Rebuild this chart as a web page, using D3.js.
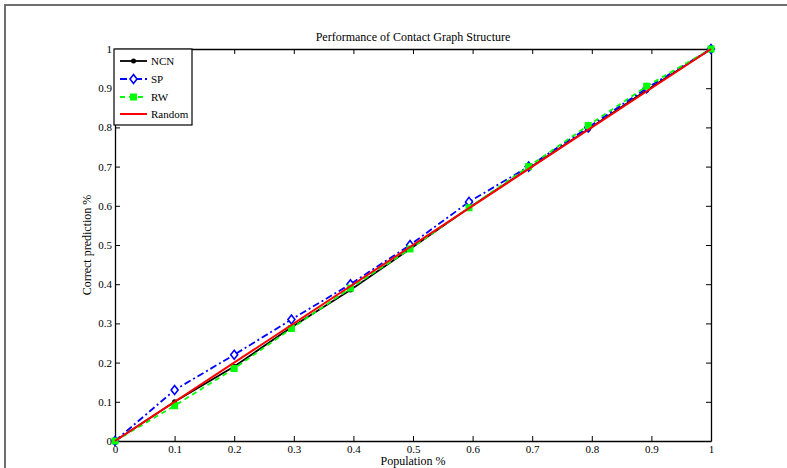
<!DOCTYPE html>
<html><head><meta charset="utf-8">
<script src="https://cdn.jsdelivr.net/npm/d3@7"></script>
<style>body{margin:0;background:#fff;}svg{display:block;}text{font-family:"Liberation Serif","Times New Roman",serif;}</style>
</head><body>
<svg id="c" width="787" height="468"></svg>
<script>
const xVals = [0, 0.1, 0.2, 0.296, 0.395, 0.495, 0.594, 0.694, 0.794, 0.892, 1];
const ncn = [0, 0.10, 0.19, 0.29, 0.385, 0.49, 0.595, 0.695, 0.795, 0.895, 1.0];
const sp = [0, 0.13, 0.22, 0.31, 0.40, 0.50, 0.61, 0.70, 0.80, 0.90, 1.0];
const rw = [0, 0.09, 0.185, 0.287, 0.39, 0.49, 0.595, 0.70, 0.805, 0.905, 1.0];
const randomX = [0, 1];
const randomY = [0, 1];
const ticks = [0, 0.1, 0.2, 0.3, 0.4, 0.5, 0.6, 0.7, 0.8, 0.9, 1];
const tickLabels = ["0", "0.1", "0.2", "0.3", "0.4", "0.5", "0.6", "0.7", "0.8", "0.9", "1"];
const seriesNames = ["NCN", "SP", "RW", "Random"];

const svg = d3.select("#c");
// outer frame
svg.append("path").attr("d", "M5,468 L5,5 L787,5").attr("fill", "none").attr("stroke", "#6e6e6e").attr("stroke-width", 2);

const L = 115, R = 711, T = 49, B = 441;
const x = d3.scaleLinear().domain([0, 1]).range([L, R]);
const y = d3.scaleLinear().domain([0, 1]).range([B, T]);

const g = svg.append("g");
const fmt = (d, i) => tickLabels[i];
const ax = g.append("g").attr("transform", `translate(0,${B})`).call(d3.axisBottom(x).tickValues(ticks).tickFormat(fmt).tickSizeInner(-5).tickSizeOuter(0).tickPadding(6));
const ay = g.append("g").attr("transform", `translate(${L},0)`).call(d3.axisLeft(y).tickValues(ticks).tickFormat(fmt).tickSizeInner(-5).tickSizeOuter(0).tickPadding(3));
const at = g.append("g").attr("transform", `translate(0,${T})`).call(d3.axisTop(x).tickValues(ticks).tickFormat("").tickSizeInner(-5).tickSizeOuter(0));
const ar = g.append("g").attr("transform", `translate(${R},0)`).call(d3.axisRight(y).tickValues(ticks).tickFormat("").tickSizeInner(-5).tickSizeOuter(0));
[ax, ay, at, ar].forEach(a => {
  a.selectAll("path.domain").attr("stroke", "#000").attr("stroke-width", 1.3);
  a.selectAll("line").attr("stroke", "#000").attr("stroke-width", 1);
  a.selectAll("text").attr("font-size", 11).attr("fill", "#000").style("font-family", "Liberation Serif, serif");
});
ax.selectAll("text").attr("dy", "0.5em");

svg.append("text").attr("x", (L + R) / 2).attr("y", 41).attr("text-anchor", "middle").attr("font-size", 12).text("Performance of Contact Graph Structure");
svg.append("text").attr("x", (L + R) / 2).attr("y", 465).attr("text-anchor", "middle").attr("font-size", 12).text("Population %");
svg.append("text").attr("transform", `translate(91,${(T + B) / 2}) rotate(-90)`).attr("text-anchor", "middle").attr("font-size", 12).text("Correct prediction %");

const line = d3.line().x(d => x(d[0])).y(d => y(d[1]));
const zip = (a, b) => a.map((v, i) => [v, b[i]]);

g.append("path").datum(zip(xVals, ncn)).attr("d", line).attr("fill", "none").attr("stroke", "#000").attr("stroke-width", 1.8);
g.selectAll(".ncn").data(zip(xVals, ncn)).join("circle").attr("cx", d => x(d[0])).attr("cy", d => y(d[1])).attr("r", 2.5).attr("fill", "#000");
g.append("path").datum(zip(xVals, sp)).attr("d", line).attr("fill", "none").attr("stroke", "#0000ff").attr("stroke-width", 1.8).attr("stroke-dasharray", "7,3,2,3");
g.selectAll(".sp").data(zip(xVals, sp)).join("path").attr("d", "M0,-4.5L3.5,0L0,4.5L-3.5,0Z").attr("transform", d => `translate(${x(d[0])},${y(d[1])})`).attr("fill", "#fff").attr("stroke", "#0000ff").attr("stroke-width", 1.6);
g.append("path").datum(zip(xVals, rw)).attr("d", line).attr("fill", "none").attr("stroke", "#00ff00").attr("stroke-width", 1.8).attr("stroke-dasharray", "5,4");
g.selectAll(".rw").data(zip(xVals, rw)).join("rect").attr("x", d => x(d[0]) - 3.5).attr("y", d => y(d[1]) - 3.5).attr("width", 7).attr("height", 7).attr("fill", "#00ff00");
g.append("path").datum(zip(randomX, randomY)).attr("d", line).attr("fill", "none").attr("stroke", "#ff0000").attr("stroke-width", 2);

const lg = svg.append("g");
lg.append("rect").attr("x", 114).attr("y", 49).attr("width", 78).attr("height", 76).attr("fill", "#fff").attr("stroke", "#000").attr("stroke-width", 1.2);
const ly = [61, 79, 97, 114];
const lx1 = 120, lx2 = 147, lxm = 133.5;
lg.append("line").attr("x1", lx1).attr("x2", lx2).attr("y1", ly[0]).attr("y2", ly[0]).attr("stroke", "#000").attr("stroke-width", 1.8);
lg.append("circle").attr("cx", lxm).attr("cy", ly[0]).attr("r", 2.5).attr("fill", "#000");
lg.append("line").attr("x1", lx1).attr("x2", lx2).attr("y1", ly[1]).attr("y2", ly[1]).attr("stroke", "#0000ff").attr("stroke-width", 1.8).attr("stroke-dasharray", "7,3,2,3");
lg.append("path").attr("d", "M0,-4.5L3.5,0L0,4.5L-3.5,0Z").attr("transform", `translate(${lxm},${ly[1]})`).attr("fill", "#fff").attr("stroke", "#0000ff").attr("stroke-width", 1.6);
lg.append("line").attr("x1", lx1).attr("x2", lx2).attr("y1", ly[2]).attr("y2", ly[2]).attr("stroke", "#00ff00").attr("stroke-width", 1.8).attr("stroke-dasharray", "5,4");
lg.append("rect").attr("x", lxm - 3.5).attr("y", ly[2] - 3.5).attr("width", 7).attr("height", 7).attr("fill", "#00ff00");
lg.append("line").attr("x1", lx1).attr("x2", lx2).attr("y1", ly[3]).attr("y2", ly[3]).attr("stroke", "#ff0000").attr("stroke-width", 2);
seriesNames.forEach((n, i) => {
  lg.append("text").attr("x", 151).attr("y", ly[i]).attr("dy", "0.35em").attr("font-size", 11).text(n);
});
</script>
</body></html>
